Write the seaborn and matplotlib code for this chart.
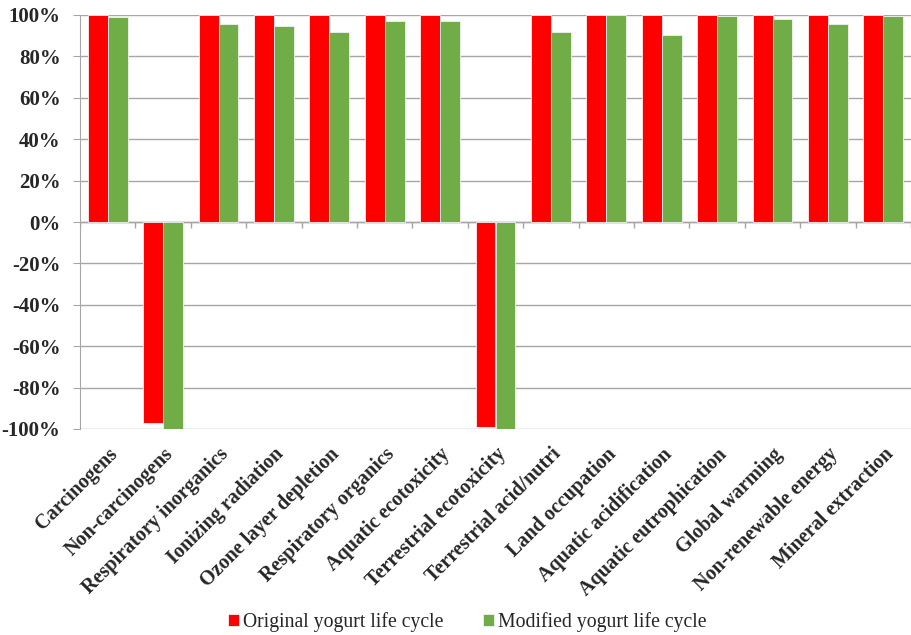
import numpy as np
import pandas as pd
import seaborn as sns
import matplotlib.pyplot as plt
from matplotlib.ticker import FuncFormatter

categories = ['Carcinogens', 'Non-carcinogens', 'Respiratory inorganics',
              'Ionizing radiation', 'Ozone layer depletion', 'Respiratory organics',
              'Aquatic ecotoxicity', 'Terrestrial ecotoxicity', 'Terrestrial acid/nutri',
              'Land occupation', 'Aquatic acidification', 'Aquatic eutrophication',
              'Global warming', 'Non-renewable energy', 'Mineral extraction']
original = [100, -97, 100, 100, 100, 100, 100, -99, 100, 100, 100, 100, 100, 100, 100]
modified = [99.0, -100, 95.5, 94.5, 91.9, 97.1, 97.3, -100, 91.8, 100, 90.3, 99.4, 97.9, 95.5, 99.4]
series = ['Original yogurt life cycle', 'Modified yogurt life cycle']
colors = ['#FF0000', '#70AD47']

df = pd.DataFrame({
    'category': categories * 2,
    'value': original + modified,
    'series': [series[0]] * len(categories) + [series[1]] * len(categories),
})

sns.set_style('white')
plt.rcParams['font.family'] = ['Liberation Serif', 'DejaVu Serif']

fig = plt.figure(figsize=(9.11, 6.35), dpi=100)
ax = fig.add_axes([80 / 911, 1 - 429 / 635, 1 - 80 / 911, (429 - 15) / 635])

sns.barplot(data=df, x='category', y='value', hue='series', palette=colors,
            saturation=1, width=0.72, gap=0, dodge=True,
            edgecolor='#f2f2f2', linewidth=0.6, ax=ax)

ax.set_ylim(-100, 100)
ax.set_xlim(-0.5, len(categories) - 0.5)
ax.set_yticks(np.arange(-100, 101, 20))
ax.yaxis.set_major_formatter(FuncFormatter(lambda v, p: f'{v:.0f}%'))
ax.yaxis.grid(True, color='#a6a6a6', linewidth=1)
ax.set_axisbelow(True)
ax.axhline(0, color='#a6a6a6', linewidth=1, zorder=0.5)
# small tick marks on the zero line between categories
ax.vlines(np.arange(-0.5, len(categories)), 0.5 - 6 / 414, 0.5,
          transform=ax.get_xaxis_transform(), color='#a6a6a6', linewidth=1)

for s in ['top', 'right', 'bottom']:
    ax.spines[s].set_visible(False)
ax.spines['left'].set_color('#a6a6a6')

ax.tick_params(axis='y', left=True, length=5, color='#a6a6a6', labelsize=15, pad=9)
ax.tick_params(axis='x', bottom=False, length=0, pad=11)
for t in ax.get_yticklabels():
    t.set_fontweight('bold')
ax.set_xticks(range(len(categories)))
ax.set_xticklabels(categories, rotation=45, ha='right', rotation_mode='anchor',
                   fontsize=14.5, fontweight='bold')
ax.set_xlabel('')
ax.set_ylabel('')

ax.legend_.remove()
handles, labels = ax.get_legend_handles_labels()
fig.legend(handles, labels, loc='center', bbox_to_anchor=(0.513, 0.021), ncol=2,
           frameon=False, fontsize=14.2, handlelength=0.55, handleheight=0.55,
           handletextpad=0.2, columnspacing=2.0)

fig.savefig('out.png', dpi=100)
